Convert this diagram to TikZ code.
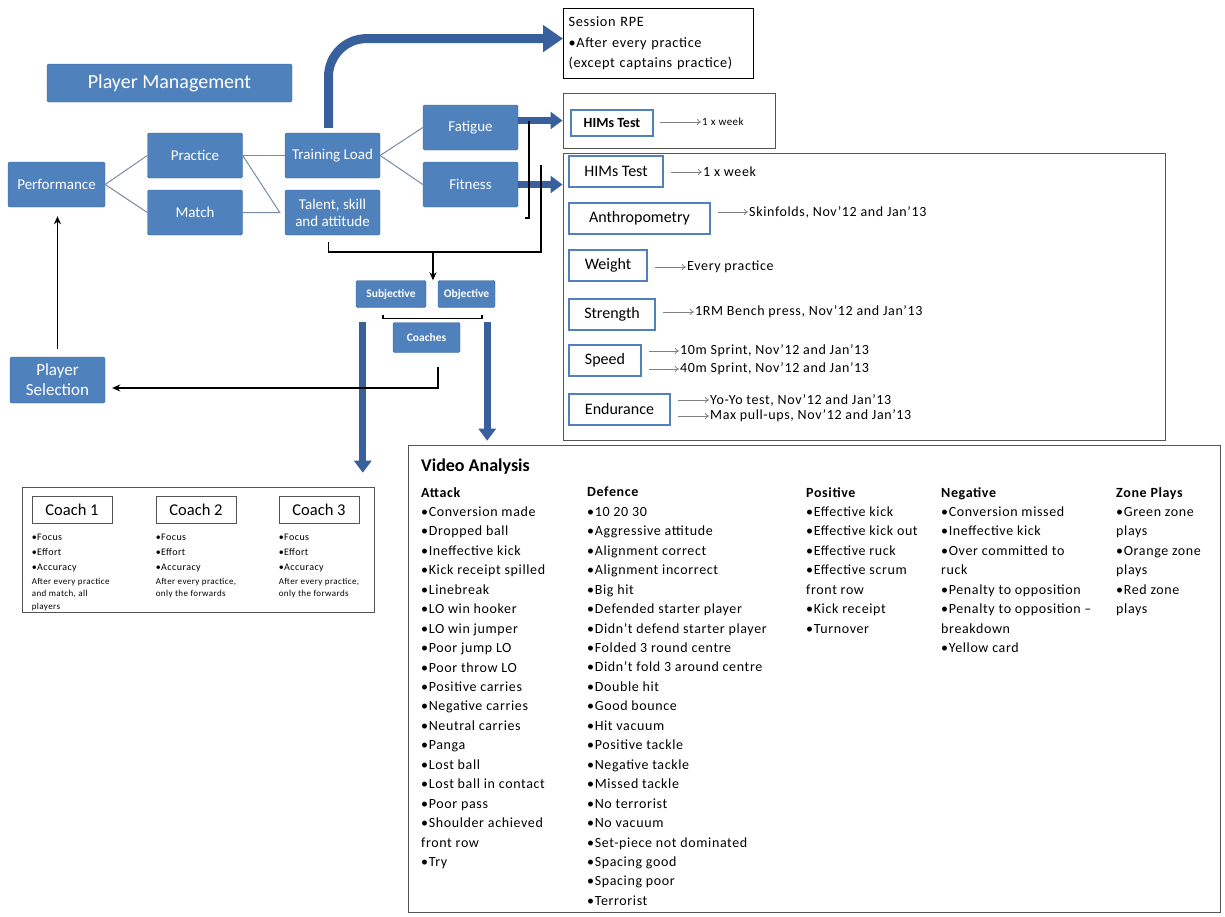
\documentclass[tikz,border=0pt]{standalone}
\usepackage{fontspec}
\setmainfont{Carlito}
\newfontfamily\trackfont[LetterSpace=4.5]{Carlito}
\usetikzlibrary{arrows.meta}

\definecolor{boxblue}{RGB}{79,129,189}
\definecolor{boxedge}{RGB}{62,102,158}
\definecolor{arrowblue}{RGB}{56,96,156}
\definecolor{linkgray}{RGB}{120,138,165}
\definecolor{framegray}{RGB}{85,85,85}

\tikzset{
  pbox/.style={draw=boxedge, fill=boxblue, text=white, rounded corners=1.5pt,
    align=center, inner sep=1pt, font=\fontsize{15}{17}\selectfont},
  tagbox/.style={pbox, font=\fontsize{11.5}{13}\selectfont\bfseries, minimum height=27pt},
  mbox/.style={draw=boxblue, line width=2pt, fill=white, anchor=west,
    minimum height=31pt, inner sep=2pt, font=\fontsize{16}{18}\selectfont},
  outframe/.style={draw=framegray, line width=1pt},
  sidenote/.style={anchor=west, inner sep=1pt, font=\fontsize{14}{15}\trackfont},
  link/.style={draw=linkgray, line width=1pt},
  thin arrow/.style={draw=gray, line width=0.8pt, -{To[length=4pt,width=6pt]}},
  fat arrow/.style={draw=arrowblue, line width=7pt, -{Triangle[length=12pt,width=17pt]}},
  black line/.style={line width=1.5pt},
  black arrow/.style={line width=1.5pt, -{Stealth[length=8pt,width=7pt]}},
  vacol/.style={anchor=north west, align=left, inner sep=0pt,
    font=\fontsize{14}{19.45}\trackfont},
}

\begin{document}
\begin{tikzpicture}[x=1pt,y=-1pt]
  \useasboundingbox (0,0) rectangle (1225,916);
  \def\bw{95pt}
  \def\bh{45pt}
  % title
  \node[pbox, minimum width=245pt, minimum height=38pt,
    font=\fontsize{20}{24}\selectfont] (title) at (169.5,83) {Player Management};
  % main chain
  \node[pbox, minimum width=97pt, minimum height=\bh] (perf) at (56.5,184.5) {Performance};
  \node[pbox, minimum width=\bw, minimum height=\bh] (prac) at (195,155.5) {Practice};
  \node[pbox, minimum width=\bw, minimum height=\bh] (match) at (195,212.5) {Match};
  \node[pbox, minimum width=\bw, minimum height=\bh] (train) at (332.5,155.5) {Training Load};
  \node[pbox, minimum width=\bw, minimum height=\bh] (talent) at (332.5,212.5) {Talent, skill\\and attitude};
  \node[pbox, minimum width=\bw, minimum height=\bh] (fatigue) at (470.5,127.5) {Fatigue};
  \node[pbox, minimum width=\bw, minimum height=\bh] (fitness) at (470.5,184.5) {Fitness};
  \node[pbox, minimum width=\bw, minimum height=46pt,
    font=\fontsize{17}{20}\selectfont] (psel) at (57.5,380) {Player\\Selection};
  % subjective / objective
  \node[tagbox, minimum width=70pt] (subj) at (391,294) {Subjective};
  \node[tagbox, minimum width=57pt] (obj) at (466.5,294) {Objective};
  \node[tagbox, minimum width=67pt, minimum height=30pt] (coach) at (426.5,337.5) {Coaches};

  \draw[link] (perf.east) -- (prac.west);
  \draw[link] (perf.east) -- (match.west);
  \draw[link] (prac.east) -- (train.west);
  \coordinate (meet) at ([xshift=-5pt]talent.west);
  \draw[link] (prac.east) -- (meet) -- (match.east);
  \draw[link] (train.east) -- (fatigue.west);
  \draw[link] (train.east) -- (fitness.west);

  % session RPE
  \node[draw, line width=1.2pt, anchor=north west, minimum width=189pt, minimum height=70pt,
    text width=180pt, align=left, inner sep=5pt,
    font=\fontsize{14.3}{20.5}\trackfont] (rpe) at (563,8)
    {Session RPE\\•After every practice\\(except captains practice)};

  % fatigue test
  \node[outframe, minimum width=212pt, minimum height=55pt] (himsbox) at (669,120.5) {};
  \node[mbox, minimum width=82pt, minimum height=26pt,
    font=\fontsize{14}{16}\selectfont\bfseries] (hims1) at (570,123) {HIMs Test};
  \node[sidenote, font=\fontsize{11}{13}\trackfont] (wk1) at (701,122) {1 x week};
  \draw[thin arrow] ([xshift=6pt]hims1.east |- wk1.west) -- (wk1.west);

  % fitness tests
  \node[outframe, minimum width=602pt, minimum height=287pt] (bigbox) at (864,296.5) {};
  \foreach \nm/\lbl/\yy/\ww in {hims2/HIMs Test/171/94, anthro/Anthropometry/218/141,
      weight/Weight/265.5/78, strength/Strength/314/86, speed/Speed/360.5/72,
      endur/Endurance/409/101} {
    \node[mbox, minimum width=\ww pt] (\nm) at (568,\yy) {\lbl};
  }
  \node[sidenote] (n1) at (702,172) {1 x week};
  \node[sidenote] (n2) at (748,212) {Skinfolds, Nov’12 and Jan’13};
  \node[sidenote] (n3) at (686,267) {Every practice};
  \node[sidenote] (n4) at (694,312) {1RM Bench press, Nov’12 and Jan’13};
  \node[sidenote] (n5) at (679,351) {10m Sprint, Nov’12 and Jan’13};
  \node[sidenote] (n6) at (679,369) {40m Sprint, Nov’12 and Jan’13};
  \node[sidenote] (n7) at (709,400) {Yo-Yo test, Nov’12 and Jan’13};
  \node[sidenote] (n8) at (709,416) {Max pull-ups, Nov’12 and Jan’13};
  \foreach \src/\dst in {hims2/n1, anthro/n2, weight/n3, strength/n4,
      speed/n5, speed/n6, endur/n7, endur/n8} {
    \draw[thin arrow] ([xshift=7pt]\src.east |- \dst.west) -- (\dst.west);
  }

  % blue arrows
  \draw[fat arrow, line width=9pt, -{Triangle[length=20pt,width=26pt]}, rounded corners=38pt]
    ([shift={(-4pt,5pt)}]train.north) |- ([yshift=5pt]rpe.west);
  \draw[fat arrow] (fatigue.east |- himsbox.west) -- (himsbox.west);
  \draw[fat arrow] (fitness.east) -- (fitness.east -| bigbox.west);
  \draw[fat arrow] ([shift={(7pt,-14pt)}]subj.south west) -- ++(0,151);
  \draw[fat arrow] ([shift={(-8pt,-14pt)}]obj.south east) -- ++(0,119);

  % black connectors
  \coordinate (brk) at (525,218);
  \draw[black line] (brk) -- ++(4,0) -- ++(0,-97);
  \coordinate (fitfoot) at (541,165);
  \coordinate (split) at (433,252);
  \coordinate (talfoot) at ([shift={(-4pt,-7pt)}]talent.south);
  \draw[black line] (fitfoot) |- (split) -| (talfoot);
  \draw[black arrow] (split) -- (split |- subj.north);
  \draw[black line] ([shift={(-8pt,-7pt)}]subj.south) -- ++(0,4) -- ++(99,0) -- ++(0,-4);
  \coordinate (cfoot) at ([shift={(11.5pt,-14pt)}]coach.south);
  \draw[black arrow] (cfoot) |- ([shift={(7pt,-8pt)}]psel.east);
  \draw[black arrow] ([yshift=8pt]psel.north) -- ([yshift=-9pt]psel.north |- perf.south);

  % coaches
  \node[outframe, minimum width=352pt, minimum height=125pt] (cpanel) at (198,549.5) {};
  \foreach \i/\cx/\note in {1/72/{After every practice\\and match, all\\players},
      2/196/{After every practice,\\only the forwards},
      3/319/{After every practice,\\only the forwards}} {
    \node[draw=framegray, line width=0.8pt, minimum width=80pt, minimum height=27pt,
      font=\fontsize{16.5}{19}\selectfont] (c\i) at (\cx,509.5) {Coach \i};
    \node[anchor=north west, align=left, inner sep=0pt,
      font=\fontsize{10}{15}\trackfont] (cb\i) at ([yshift=-10pt]c\i.south west)
      {•Focus\\•Effort\\•Accuracy};
    \node[anchor=north west, align=left, inner sep=0pt,
      font=\fontsize{9}{12.5}\trackfont] (cn\i) at ([yshift=-6pt]cb\i.south west) {\note};
  }

  % video analysis
  \node[outframe, anchor=north west, minimum width=812pt, minimum height=467pt] (vbox) at (408,445) {};
  \node[anchor=west, inner sep=0pt, font=\fontsize{18}{20}\selectfont\bfseries] (vtitle) at (421,467) {Video Analysis};
  \node[vacol] (attack) at (421,487) {\textbf{Attack}\\•Conversion made\\•Dropped ball\\•Ineffective kick\\
    •Kick receipt spilled\\•Linebreak\\•LO win hooker\\•LO win jumper\\•Poor jump LO\\•Poor throw LO\\
    •Positive carries\\•Negative carries\\•Neutral carries\\•Panga\\•Lost ball\\•Lost ball in contact\\
    •Poor pass\\•Shoulder achieved\\front row\\•Try};
  \node[vacol] (defence) at (587,487) {\textbf{Defence}\\•10 20 30\\•Aggressive attitude\\•Alignment correct\\
    •Alignment incorrect\\•Big hit\\•Defended starter player\\•Didn’t defend starter player\\
    •Folded 3 round centre\\•Didn’t fold 3 around centre\\•Double hit\\•Good bounce\\•Hit vacuum\\
    •Positive tackle\\•Negative tackle\\•Missed tackle\\•No terrorist\\•No vacuum\\
    •Set-piece not dominated\\•Spacing good\\•Spacing poor\\•Terrorist};
  \node[vacol] (positive) at (806,487) {\textbf{Positive}\\•Effective kick\\•Effective kick out\\
    •Effective ruck\\•Effective scrum\\front row\\•Kick receipt\\•Turnover};
  \node[vacol] (negative) at (941,487) {\textbf{Negative}\\•Conversion missed\\•Ineffective kick\\
    •Over committed to\\ruck\\•Penalty to opposition\\•Penalty to opposition –\\breakdown\\•Yellow card};
  \node[vacol] (zone) at (1116,487) {\textbf{Zone Plays}\\•Green zone\\plays\\•Orange zone\\plays\\•Red zone\\plays};
\end{tikzpicture}
\end{document}
